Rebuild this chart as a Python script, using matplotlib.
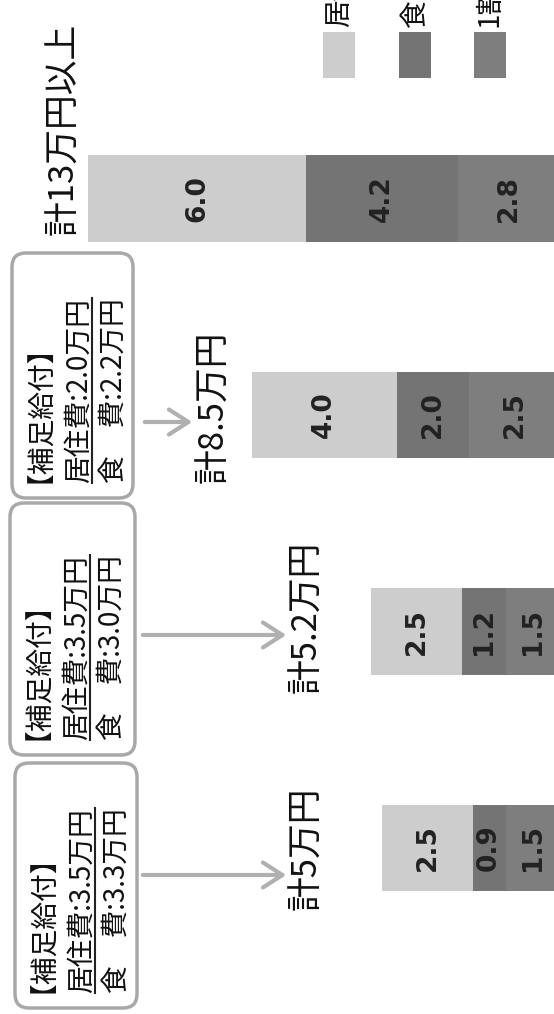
import matplotlib
matplotlib.use('Agg')
import matplotlib.pyplot as plt
from matplotlib.patches import FancyBboxPatch, Rectangle, FancyArrowPatch
from matplotlib.lines import Line2D
from matplotlib.transforms import IdentityTransform
import numpy as np

# ---------------- data ----------------
categories = ['計13万円以上', '計8.5万円', '計5.2万円', '計5万円']
housing = [6.0, 4.0, 2.5, 2.5]    # 居住費
food = [4.2, 2.0, 1.2, 0.9]       # 食費
copay = [2.8, 2.5, 1.5, 1.5]      # 1割負担
series_names = ['居住費', '食費', '1割負担']
sub_housing = [None, '2.0', '3.5', '3.5']   # 補足給付 居住費 (万円)
sub_food = [None, '2.2', '3.0', '3.3']      # 補足給付 食費 (万円)

CJK = ['Noto Sans CJK JP', 'DejaVu Sans']
plt.rcParams['font.family'] = CJK

W, H = 554, 1014
fig = plt.figure(figsize=(W / 100, H / 100), dpi=100)
fig.patch.set_facecolor('white')
ax = fig.add_axes([0, 0, 1, 1])
ax.set_xlim(15.43, 0.165)
ax.set_ylim(3.767, -0.917)
ax.axis('off')

col_house, col_food, col_copay = '#cdcdcd', '#747474', '#7e7e7e'

ypos = np.arange(len(categories))
left = np.zeros(len(categories))
for vals, c in [(copay, col_copay), (food, col_food), (housing, col_house)]:
    vals = np.array(vals)
    ax.barh(ypos, vals, left=left, height=0.40, color=c, edgecolor='none')
    for i, (l, v) in enumerate(zip(left, vals)):
        ax.text(l + v / 2, ypos[i], f'{v:.1f}', rotation=90, ha='center', va='center',
                fontsize=19, fontweight='bold', family='DejaVu Sans', color='#222222')
    left = left + vals

I = IdentityTransform()


def P(x, y):
    """top-left pixel -> display coords"""
    return x, H - y


# category labels (rotated)
label_pos = [(64, 235), (214, 483), (307, 693), (307, 910)]
for cat, (x, y) in zip(categories, label_pos):
    fig.text(x / W, 1 - y / H, cat, rotation=90, ha='center', va='bottom',
             fontsize=25, color='#111111')

# legend (partly cut off at the top, as in the source)
leg_x = [339, 415, 490]
for name, c, x in zip(series_names, [col_house, col_food, col_copay], leg_x):
    fig.add_artist(Rectangle(P(x - 16, 78), 32, 46, transform=I, facecolor=c, edgecolor='none'))
    fig.text(x / W, 1 - 27 / H, name, rotation=90, ha='center', va='bottom',
             fontsize=20, color='#111111')

# boxes with 補足給付
boxes = [None, (12, 253, 133, 498), (10, 503, 135, 755), (15, 763, 137, 1008)]
arrows = [None, (142, 195, 422), (140, 289, 635), (140, 289, 875)]
fig.canvas.draw()
renderer = fig.canvas.get_renderer()
for k in range(len(categories)):
    if boxes[k] is None:
        continue
    x0, y0, x1, y1 = boxes[k]
    fig.add_artist(FancyBboxPatch(P(x0, y1), x1 - x0, y1 - y0, transform=I,
                                  boxstyle='round,pad=0,rounding_size=14',
                                  facecolor='none', edgecolor='#a8a8a8', lw=2.5))
    yb = y1 - 15
    lines = ['【補足給付】', f'居住費:{sub_housing[k]}万円', f'食　費:{sub_food[k]}万円']
    xs = [x0 + 22, x0 + 75, x0 + 110]
    txts = []
    for s, xb in zip(lines, xs):
        t = fig.text(xb / W, 1 - yb / H, s, rotation=90, rotation_mode='anchor',
                     ha='left', va='baseline', fontsize=20, color='#111111')
        txts.append(t)
    bb = txts[1].get_window_extent(renderer)
    xu = xs[1] + 5
    fig.add_artist(Line2D([xu, xu], [bb.y0, bb.y1], transform=I,
                          color='#222222', lw=1.5))
    ax0, ax1, ay = arrows[k]
    fig.add_artist(FancyArrowPatch(P(ax0, ay), P(ax1, ay), transform=I,
                                   arrowstyle='->,head_length=0.7,head_width=0.45',
                                   mutation_scale=20, lw=3, color='#b0b0b0'))

fig.savefig('out.png', dpi=100, facecolor='white')
